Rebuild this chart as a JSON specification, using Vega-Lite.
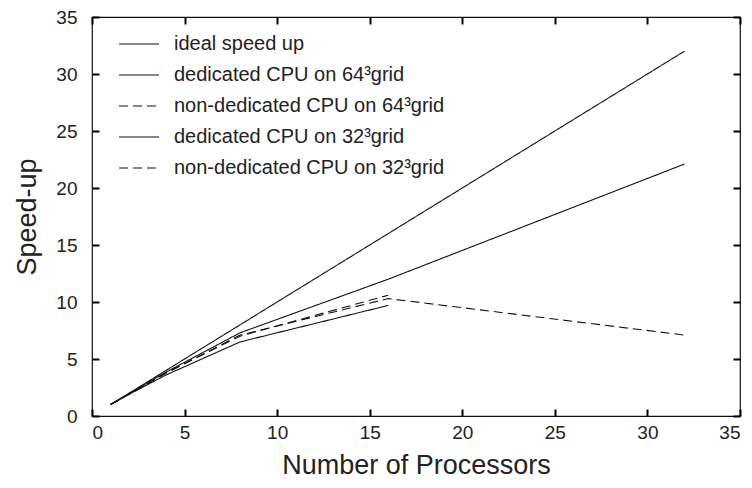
{
  "$schema": "https://vega.github.io/schema/vega-lite/v6.json",
  "autosize": {"type": "none"},
  "padding": {"left": 92, "top": 17, "right": 12, "bottom": 72},
  "width": 648,
  "height": 399,
  "background": "white",
  "config": {
    "view": {"stroke": "#111", "strokeWidth": 1.2},
    "font": "Liberation Sans",
    "axis": {
      "grid": false,
      "domain": false,
      "labelFont": "Liberation Sans",
      "labelFontSize": 19,
      "labelColor": "#222",
      "titleFont": "Liberation Sans",
      "titleFontSize": 27,
      "titleFontWeight": "normal",
      "titleColor": "#222"
    }
  },
  "data": {
    "values": [
      {"series": "ideal speed up", "p": 1, "s": 1},
      {"series": "ideal speed up", "p": 2, "s": 2},
      {"series": "ideal speed up", "p": 4, "s": 4},
      {"series": "ideal speed up", "p": 8, "s": 8},
      {"series": "ideal speed up", "p": 16, "s": 16},
      {"series": "ideal speed up", "p": 32, "s": 32},
      {"series": "dedicated CPU on 64³grid", "p": 1, "s": 1},
      {"series": "dedicated CPU on 64³grid", "p": 2, "s": 1.95},
      {"series": "dedicated CPU on 64³grid", "p": 4, "s": 3.85},
      {"series": "dedicated CPU on 64³grid", "p": 8, "s": 7.3},
      {"series": "dedicated CPU on 64³grid", "p": 16, "s": 12.0},
      {"series": "dedicated CPU on 64³grid", "p": 32, "s": 22.1},
      {"series": "non-dedicated CPU on 64³grid", "p": 1, "s": 1},
      {"series": "non-dedicated CPU on 64³grid", "p": 2, "s": 1.9},
      {"series": "non-dedicated CPU on 64³grid", "p": 4, "s": 3.75},
      {"series": "non-dedicated CPU on 64³grid", "p": 8, "s": 7.1},
      {"series": "non-dedicated CPU on 64³grid", "p": 16, "s": 10.3},
      {"series": "non-dedicated CPU on 64³grid", "p": 32, "s": 7.1},
      {"series": "dedicated CPU on 32³grid", "p": 1, "s": 1},
      {"series": "dedicated CPU on 32³grid", "p": 2, "s": 1.9},
      {"series": "dedicated CPU on 32³grid", "p": 4, "s": 3.6},
      {"series": "dedicated CPU on 32³grid", "p": 8, "s": 6.5},
      {"series": "dedicated CPU on 32³grid", "p": 16, "s": 9.7},
      {"series": "non-dedicated CPU on 32³grid", "p": 1, "s": 1},
      {"series": "non-dedicated CPU on 32³grid", "p": 2, "s": 1.95},
      {"series": "non-dedicated CPU on 32³grid", "p": 4, "s": 3.8},
      {"series": "non-dedicated CPU on 32³grid", "p": 8, "s": 7.0},
      {"series": "non-dedicated CPU on 32³grid", "p": 16, "s": 10.6}
    ]
  },
  "resolve": {"axis": {"x": "independent", "y": "independent"}},
  "layer": [
    {
      "mark": {"type": "line", "color": "#111", "strokeWidth": 1.1},
      "encoding": {
        "x": {
          "field": "p", "type": "quantitative",
          "scale": {"domain": [0, 35], "nice": false, "zero": false},
          "axis": {"title": "Number of Processors", "values": [0, 5, 10, 15, 20, 25, 30, 35], "ticks": false, "labelPadding": 7, "titlePadding": 10}
        },
        "y": {
          "field": "s", "type": "quantitative",
          "scale": {"domain": [0, 35], "nice": false, "zero": false},
          "axis": {"title": "Speed-up", "values": [0, 5, 10, 15, 20, 25, 30, 35], "ticks": false, "labelPadding": 15, "titlePadding": 14}
        },
        "strokeDash": {
          "field": "series", "type": "nominal",
          "scale": {
            "domain": ["ideal speed up", "dedicated CPU on 64³grid", "non-dedicated CPU on 64³grid", "dedicated CPU on 32³grid", "non-dedicated CPU on 32³grid"],
            "range": [[1, 0], [1, 0], [9, 5], [1, 0], [9, 5]]
          },
          "legend": {
            "title": null,
            "orient": "none",
            "legendX": 26,
            "legendY": 6,
            "padding": 0,
            "symbolType": "stroke",
            "symbolSize": 1600,
            "symbolStrokeWidth": 1.1,
            "symbolStrokeColor": "#111",
            "labelFontSize": 20,
            "labelColor": "#222",
            "labelOffset": 14,
            "rowPadding": -11,
            "labelLimit": 400
          }
        }
      }
    },
    {
      "mark": {"type": "line", "opacity": 0},
      "encoding": {
        "x": {
          "field": "p", "type": "quantitative",
          "scale": {"domain": [0, 35], "nice": false, "zero": false},
          "axis": {"orient": "bottom", "title": null, "labels": false, "ticks": true, "offset": -7, "tickSize": 7, "tickColor": "black", "tickWidth": 2, "zindex": 2, "values": [0, 5, 10, 15, 20, 25, 30, 35]}
        },
        "y": {
          "field": "s", "type": "quantitative",
          "scale": {"domain": [0, 35], "nice": false, "zero": false},
          "axis": {"orient": "left", "title": null, "labels": false, "ticks": true, "offset": -7, "tickSize": 7, "tickColor": "black", "tickWidth": 2, "zindex": 2, "values": [0, 5, 10, 15, 20, 25, 30, 35]}
        },
        "detail": {"field": "series", "type": "nominal"}
      }
    },
    {
      "mark": {"type": "line", "opacity": 0},
      "encoding": {
        "x": {
          "field": "p", "type": "quantitative",
          "scale": {"domain": [0, 35], "nice": false, "zero": false},
          "axis": {"orient": "top", "title": null, "labels": false, "ticks": true, "offset": -7, "tickSize": 7, "tickColor": "black", "tickWidth": 2, "zindex": 2, "values": [0, 5, 10, 15, 20, 25, 30, 35]}
        },
        "y": {
          "field": "s", "type": "quantitative",
          "scale": {"domain": [0, 35], "nice": false, "zero": false},
          "axis": {"orient": "right", "title": null, "labels": false, "ticks": true, "offset": -7, "tickSize": 7, "tickColor": "black", "tickWidth": 2, "zindex": 2, "values": [0, 5, 10, 15, 20, 25, 30, 35]}
        },
        "detail": {"field": "series", "type": "nominal"}
      }
    }
  ]
}
